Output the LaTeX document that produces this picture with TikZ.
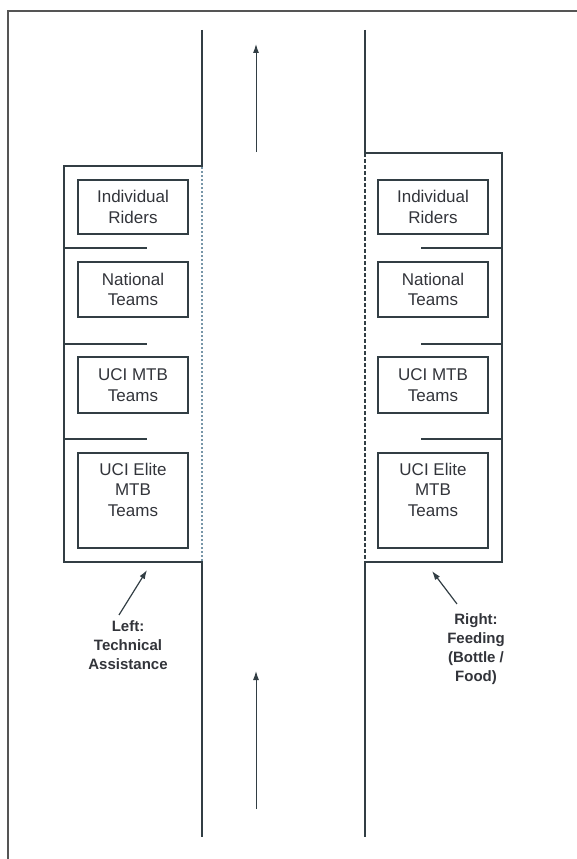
\documentclass[tikz,border=0pt]{standalone}
\usepackage{fontspec}
\setmainfont{Liberation Sans}
\usetikzlibrary{arrows.meta}
\definecolor{linegray}{RGB}{50,62,68}
\definecolor{dotgray}{RGB}{120,150,168}
\definecolor{textgray}{RGB}{50,52,58}
\definecolor{framegray}{RGB}{85,85,85}
\tikzset{
  road/.style={draw=linegray, line width=1.6pt},
  teambox/.style={draw=linegray, line width=1.3pt, minimum width=110pt, inner sep=0pt,
    align=center, font=\fontsize{17}{20.5}\selectfont, text=textgray},
  sidelbl/.style={align=center, font=\bfseries\fontsize{15}{19}\selectfont, text=textgray},
  pointer/.style={draw=linegray, line width=1.2pt, -{Latex[length=9pt,width=6pt]}},
}
\begin{document}
\begin{tikzpicture}[x=1pt,y=-1pt]
    \useasboundingbox (0,0) rectangle (577,859);
    \draw[framegray, line width=1.5pt] (8,859) -- (8,11) -- (577,11);
    % left side of the course
    \draw[road] (202,30) -- (202,166) -- (64,166) -- (64,562) -- (202,562) -- (202,837);
    \draw[dotgray, line width=1.3pt, dash pattern=on 2pt off 2pt] (202,167) -- (202,561);
    % right side of the course
    \draw[road] (365,30) -- (365,153) -- (502,153) -- (502,562) -- (365,562) -- (365,837);
    \draw[white, line width=2pt] (365,154) -- (365,561);
    \draw[linegray, line width=1.4pt, dash pattern=on 4pt off 2pt] (365,153) -- (365,562);
    \foreach \y in {248,344,439}
        {\draw[road] (64,\y) -- (147,\y);
         \draw[road] (421,\y) -- (502,\y);
        }
    % team boxes
    \foreach \s/\cx in {l/133,r/433}
        {\node[teambox, minimum height=54pt] (\s-ind) at (\cx,207) {Individual\\Riders};
         \node[teambox, minimum height=55pt] (\s-nat) at (\cx,289.5) {National\\Teams};
         \node[teambox, minimum height=56pt] (\s-mtb) at (\cx,385) {UCI MTB\\Teams};
         \node[teambox, minimum height=95pt] (\s-elite) at (\cx,500.5) {};
         \node[teambox, draw=none, anchor=north] (\s-elitetxt) at ([yshift=-10pt]\s-elite.north) {UCI Elite\\MTB\\Teams};
        }
    % direction of the race
    \coordinate (topfrom) at (256,152);
    \coordinate (topto) at (256,44);
    \coordinate (botfrom) at (256,809);
    \coordinate (botto) at (256,671);
    \draw[pointer, line width=1pt] (topfrom) -- (topto);
    \draw[pointer, line width=1pt] (botfrom) -- (botto);
    % zone labels
    \node[sidelbl] (leftlbl) at (128,645) {Left:\\Technical\\Assistance};
    \node[sidelbl] (rightlbl) at (476,649) {Right:\\Feeding\\(Bottle /\\Food)};
    \coordinate (ltip) at (147,570);
    \coordinate (rtip) at (432,571);
    \draw[pointer] ([xshift=-9pt,yshift=2pt]leftlbl.north) -- (ltip);
    \draw[pointer] ([xshift=-19pt,yshift=6pt]rightlbl.north) -- (rtip);
\end{tikzpicture}
\end{document}
